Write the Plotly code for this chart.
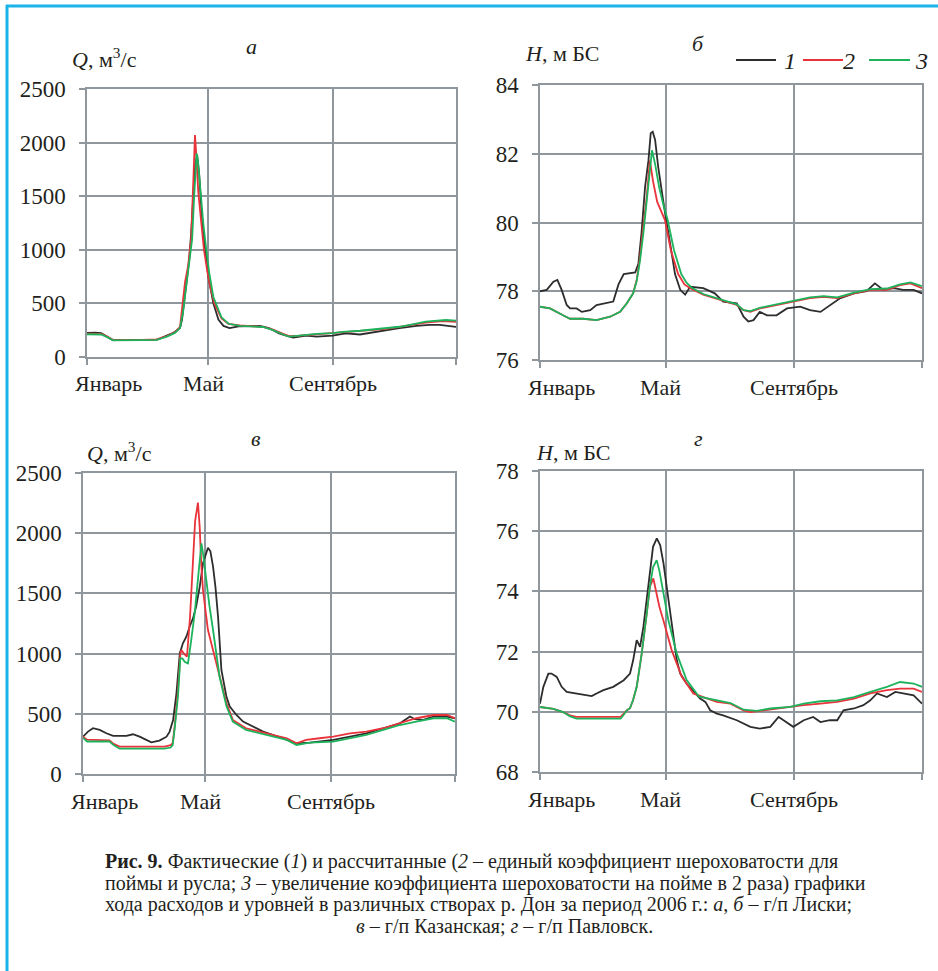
import plotly.graph_objects as go

W, H = 938, 971
SERIF = "Liberation Serif"
TXT = "#231f20"
GRID = "#8f979d"
C1, C2, C3 = "#2d2d2d", "#e8333a", "#1db35c"

# ---------------- data (day of year, value) ----------------
# Panel a: discharge Q, m3/s, Liski
a1_d = [0, 8, 14, 20, 25, 40, 55, 69, 72, 79, 83, 87, 92, 94, 96, 99, 101, 103, 105, 107, 109, 111, 113, 115, 117, 120, 125, 130, 135, 141, 150, 160, 171, 180, 190, 197, 204, 217, 227, 243, 256, 270, 283, 293, 309, 326, 339, 349, 365]
a1_v = [225, 228, 222, 190, 160, 158, 160, 162, 172, 195, 215, 235, 270, 350, 520, 780, 900, 1150, 1500, 1800, 1880, 1700, 1400, 1150, 1000, 750, 500, 350, 290, 270, 285, 290, 290, 270, 220, 200, 180, 200, 190, 200, 220, 210, 230, 250, 270, 290, 300, 300, 280]
a2_d = [0, 14, 20, 26, 55, 69, 72, 79, 87, 92, 94, 97, 100, 103, 105, 106.8, 108, 110, 112, 115.7, 119, 122, 126, 133, 140, 151, 174, 184, 194, 200, 210, 227, 243, 253, 270, 283, 296, 309, 322, 335, 352, 365]
a2_v = [218, 215, 190, 158, 160, 165, 175, 195, 230, 280, 450, 700, 850, 1100, 1600, 2070, 1900, 1550, 1350, 1000, 800, 650, 500, 360, 310, 295, 280, 255, 215, 195, 200, 212, 220, 228, 240, 250, 262, 280, 300, 320, 335, 328]
a3_d = [0, 14, 20, 26, 55, 69, 72, 79, 87, 92, 95, 98, 101, 104, 106, 108.5, 110, 113, 115, 118, 121, 125, 133, 140, 151, 174, 184, 194, 200, 210, 227, 243, 253, 270, 283, 296, 309, 322, 335, 355, 365]
a3_v = [212, 210, 185, 155, 157, 160, 168, 190, 225, 270, 420, 650, 850, 1100, 1500, 1900, 1800, 1450, 1250, 1000, 780, 560, 370, 310, 290, 280, 250, 210, 190, 200, 215, 222, 235, 245, 255, 268, 282, 305, 330, 345, 340]

# Panel b: water level H, m BS, Liski
b1_d = [0, 6.4, 12.8, 16.6, 20.7, 25.5, 28.7, 35, 40, 48, 54, 60.6, 70, 75, 80, 91, 94, 97, 100.4, 103.6, 105.8, 107.7, 110, 113, 116.4, 119.5, 122.7, 126, 129, 134, 138.7, 143.5, 156, 167, 175, 188, 194.5, 199, 204, 210, 217, 226, 236, 248.6, 258, 268, 277, 287, 300, 312, 320, 328, 338, 347, 357, 365]
b1_v = [78.0, 78.04, 78.28, 78.33, 78.04, 77.6, 77.5, 77.5, 77.4, 77.45, 77.6, 77.65, 77.7, 78.2, 78.5, 78.55, 78.8, 79.7, 81.04, 81.8, 82.6, 82.64, 82.4, 81.6, 80.85, 80.27, 79.7, 79.0, 78.5, 78.04, 77.9, 78.13, 78.09, 77.94, 77.7, 77.65, 77.26, 77.12, 77.16, 77.4, 77.3, 77.3, 77.5, 77.55, 77.45, 77.4, 77.6, 77.8, 77.94, 78.0, 78.23, 78.04, 78.09, 78.04, 78.04, 77.94]
b2_d = [0, 9.6, 22, 28.7, 41, 54, 67, 76.5, 83, 89, 92.4, 95.6, 98.8, 102, 105, 108, 112, 119.4, 125, 132, 138, 143.5, 156, 172, 188, 194.5, 201, 210, 226, 242, 258, 271, 284, 300, 316, 331.6, 344, 354, 365]
b2_v = [77.55, 77.5, 77.3, 77.2, 77.2, 77.16, 77.26, 77.4, 77.65, 77.94, 78.33, 79.0, 79.9, 80.75, 81.8, 81.2, 80.6, 80.07, 79.2, 78.5, 78.2, 78.09, 77.9, 77.75, 77.6, 77.45, 77.4, 77.5, 77.6, 77.7, 77.8, 77.84, 77.8, 77.94, 78.04, 78.04, 78.18, 78.23, 78.09]
b3_d = [0, 9.6, 22, 28.7, 41, 54, 67, 76.5, 83, 89, 92.4, 95.6, 98.8, 102, 104.5, 107, 110, 114, 118, 122, 128, 135, 140, 145, 156, 172, 188, 194.5, 201, 210, 226, 242, 258, 271, 284, 300, 316, 331.6, 344, 354, 365]
b3_v = [77.55, 77.5, 77.3, 77.2, 77.2, 77.16, 77.26, 77.4, 77.65, 77.94, 78.3, 78.9, 79.7, 80.6, 81.5, 82.1, 81.7, 81.0, 80.5, 80.07, 79.2, 78.5, 78.25, 78.1, 77.92, 77.76, 77.62, 77.45, 77.42, 77.52, 77.62, 77.72, 77.82, 77.86, 77.82, 77.96, 78.06, 78.08, 78.2, 78.26, 78.15]

# Panel в: discharge Q, m3/s, Kazanskaya
c1_d = [0, 4.9, 9.8, 16.4, 22.9, 29.5, 42.6, 49, 55.6, 62, 67, 75, 82, 85, 88.4, 91.7, 95, 98, 101.5, 104.7, 108, 111, 114.6, 117.8, 121, 122.6, 125, 127.6, 130, 132.5, 135.8, 140.7, 144, 150.6, 157, 167, 176.8, 186.6, 199.7, 209.5, 222.6, 245.5, 262, 278, 294.6, 311, 320.8, 325.7, 333.9, 343.7, 356.8, 365]
c1_v = [310, 352, 380, 366, 338, 316, 316, 330, 310, 283, 263, 277, 310, 352, 449, 670, 1003, 1086, 1142, 1225, 1294, 1391, 1558, 1752, 1850, 1880, 1850, 1722, 1550, 1307, 864, 643, 560, 490, 435, 394, 352, 324, 283, 255, 260, 283, 310, 338, 380, 421, 477, 455, 449, 477, 477, 463]
c2_d = [0, 4, 10, 26, 30, 36, 60, 80, 86, 88, 90, 93.2, 95.5, 96.5, 99, 102, 105, 108, 110, 112.8, 114.5, 116, 117.7, 122.6, 129, 134, 140.7, 147, 160, 180, 200, 209.5, 219, 232, 245.5, 262, 278, 294.6, 311, 327, 344, 357, 365]
c2_v = [310, 285, 283, 280, 250, 228, 228, 228, 240, 257, 400, 698, 1000, 1030, 1000, 974, 1300, 1805, 2100, 2254, 2050, 1750, 1528, 1196, 974, 808, 590, 449, 380, 338, 297, 255, 283, 297, 310, 338, 352, 380, 421, 463, 490, 490, 463]
c3_d = [0, 4, 26, 30, 36, 80, 86, 88, 90, 93.2, 95.5, 97.5, 100, 103, 106, 109.6, 112, 114.6, 116.2, 118, 121, 124, 127.6, 131, 134, 140.7, 147, 160, 180, 200, 209.5, 222.6, 245.5, 262, 278, 294.6, 311, 327, 344, 357, 365]
c3_v = [300, 270, 270, 240, 210, 210, 220, 240, 380, 650, 960, 960, 930, 919, 1100, 1337, 1550, 1800, 1916, 1820, 1584, 1400, 1196, 1000, 808, 564, 435, 366, 324, 283, 241, 260, 269, 297, 324, 366, 407, 435, 463, 463, 435]

# Panel г: water level H, m BS, Pavlovsk
d1_d = [0, 3.2, 8, 11, 16, 20.7, 25.5, 35, 44.6, 49.4, 54, 60.6, 70, 80, 86, 89, 92.4, 95.6, 98.8, 102, 105, 108, 111.6, 114.8, 118, 121, 124, 127.5, 130.7, 134, 140, 153, 158, 162.6, 169, 175, 188, 201, 210, 220, 228, 232.7, 242, 252, 261, 268, 277, 284, 290, 300, 309, 315.6, 322, 331.5, 339.5, 347, 357, 365]
d1_v = [70.27, 70.83, 71.27, 71.27, 71.16, 70.83, 70.66, 70.61, 70.55, 70.52, 70.61, 70.72, 70.83, 71.05, 71.27, 71.71, 72.38, 72.16, 72.82, 73.82, 74.7, 75.48, 75.76, 75.54, 74.93, 74.15, 73.49, 72.6, 71.71, 71.27, 70.94, 70.44, 70.33, 70.05, 69.94, 69.88, 69.72, 69.5, 69.44, 69.5, 69.83, 69.72, 69.5, 69.72, 69.83, 69.66, 69.72, 69.72, 70.05, 70.11, 70.22, 70.38, 70.61, 70.49, 70.66, 70.61, 70.55, 70.27]
d2_d = [0, 12.8, 22, 28.7, 35, 77, 80, 83, 86, 89, 92.4, 97.2, 102, 105, 108.3, 111, 114, 117.8, 125.8, 135.4, 146.5, 156, 169, 182, 194.5, 201, 214, 226.4, 239, 252, 268, 284, 300, 315.6, 331.5, 344, 357, 365]
d2_v = [70.16, 70.1, 69.99, 69.88, 69.83, 69.83, 69.94, 70.05, 70.12, 70.4, 70.83, 71.94, 73.27, 74.16, 74.43, 74.0, 73.5, 73.05, 72.05, 71.17, 70.61, 70.49, 70.33, 70.27, 70.05, 69.99, 70.05, 70.11, 70.16, 70.22, 70.27, 70.33, 70.44, 70.61, 70.72, 70.77, 70.77, 70.66]
d3_d = [0, 12.8, 22, 28.7, 35, 77, 80, 83, 86, 89, 92.4, 97.2, 102, 105, 108, 111.5, 114, 118, 122.6, 130.6, 140, 152, 169, 182, 194.5, 207, 220, 239, 252, 268, 284, 300, 315.6, 331.5, 344, 357, 365]
d3_v = [70.16, 70.1, 69.99, 69.85, 69.77, 69.77, 69.9, 70.05, 70.12, 70.4, 70.83, 71.94, 73.27, 74.16, 74.8, 75.04, 74.7, 73.9, 73.05, 71.94, 71.06, 70.5, 70.38, 70.29, 70.07, 70.03, 70.11, 70.16, 70.27, 70.35, 70.38, 70.49, 70.66, 70.83, 70.99, 70.94, 70.83]

month_ticks = [0, 120, 243, 365]
month_labels = ["Январь", "Май", "Сентябрь"]
q_ticks = [0, 500, 1000, 1500, 2000, 2500]
hb_ticks = [76, 78, 80, 82, 84]
hd_ticks = [68, 70, 72, 74, 76, 78]
series_names = ["1", "2", "3"]
colors = [C1, C2, C3]


def px_x(x0, x1):
    return [x0 / W, x1 / W]


def px_y(top, bottom):
    return [1 - bottom / H, 1 - top / H]


panels = [
    ("", (87, 456), (89, 357), [0, 2500], q_ticks, [(a1_d, a1_v), (a2_d, a2_v), (a3_d, a3_v)]),
    ("2", (540, 922), (85, 360), [76, 84], hb_ticks, [(b1_d, b1_v), (b2_d, b2_v), (b3_d, b3_v)]),
    ("3", (83, 455), (473, 774), [0, 2500], q_ticks, [(c1_d, c1_v), (c2_d, c2_v), (c3_d, c3_v)]),
    ("4", (540, 922), (471, 772), [68, 78], hd_ticks, [(d1_d, d1_v), (d2_d, d2_v), (d3_d, d3_v)]),
]

fig = go.Figure()
annotations = []
shapes = []
layout = dict(
    template="none", showlegend=False,
    width=W, height=H, margin=dict(l=0, r=0, t=0, b=0, pad=0, autoexpand=False),
    paper_bgcolor="white", plot_bgcolor="white",
    font=dict(family=SERIF, color=TXT, size=21),
)

for key, (x0, x1), (y0, y1), yr, yt, series in panels:
    xa = "x" + key
    ya = "y" + key
    for i, (d, v) in enumerate(series):
        fig.add_trace(go.Scatter(
            x=d, y=v, mode="lines", xaxis=xa, yaxis=ya,
            line=dict(color=colors[i], width=1.8),
            name=series_names[i], showlegend=False,
        ))
    layout["xaxis" + key] = dict(
        domain=px_x(x0, x1), anchor=ya, range=[0, 365], automargin=False,
        tickvals=month_ticks, showticklabels=False,
        ticks="outside", ticklen=6, tickcolor=GRID, tickwidth=1.5,
        showgrid=True, gridcolor=GRID, gridwidth=1.5,
        showline=True, linecolor=GRID, linewidth=1.5, mirror=True,
        zeroline=False,
    )
    layout["yaxis" + key] = dict(
        domain=px_y(y0, y1), anchor=xa, range=yr, automargin=False,
        tickvals=yt, ticktext=[str(v) for v in yt],
        ticks="outside", ticklen=6, tickcolor=GRID, tickwidth=1.5,
        showgrid=True, gridcolor=GRID, gridwidth=1.5,
        showline=True, linecolor=GRID, linewidth=1.5, mirror=True,
        zeroline=False, ticklabelstandoff=9,
        tickfont=dict(family=SERIF, size=23, color=TXT),
    )
    lab_y = 1 - (y1 + 27) / H
    for j, lab in enumerate(month_labels):
        annotations.append(dict(x=month_ticks[j], xref=xa, y=lab_y, yref="paper",
                                text=lab, showarrow=False,
                                xanchor="left" if j == 0 else "center", yanchor="middle",
                                xshift=[-14, -5, 0][j],
                                font=dict(family=SERIF, size=22, color=TXT)))


def ann(text, x, y, size=21, xanchor="left"):
    annotations.append(dict(
        x=x / W, y=1 - y / H, xref="paper", yref="paper", text=text, showarrow=False,
        xanchor=xanchor, yanchor="middle", font=dict(family=SERIF, size=size, color=TXT),
    ))


# axis titles
ann("<i>Q</i>, м<sup>3</sup>/с", 70, 58, size=22)
ann("<i>H</i>, м БС", 523, 54, size=22)
ann("<i>Q</i>, м<sup>3</sup>/с", 85, 452, size=22)
ann("<i>H</i>, м БС", 534, 452, size=22)
# panel letters
ann("<i>а</i>", 251, 46, size=22, xanchor="center")
ann("<i>б</i>", 698, 43, size=22, xanchor="center")
ann("<i>в</i>", 256, 438, size=22, xanchor="center")
ann("<i>г</i>", 698, 438, size=22, xanchor="center")

# legend (key lines + italic numbers), top right of panel б
leg_lines = [(736, 776), (803, 843), (869, 910)]
leg_text_x = [790, 849, 921]
for i in range(3):
    lx0, lx1 = leg_lines[i]
    shapes.append(dict(type="line", xref="paper", yref="paper",
                       x0=lx0 / W, x1=lx1 / W, y0=1 - 60 / H, y1=1 - 60 / H,
                       line=dict(color=colors[i], width=2)))
    ann("<i>" + series_names[i] + "</i>", leg_text_x[i], 61, size=24, xanchor="center")

# caption
cap = [
    "<b>Рис. 9.</b> Фактические (<i>1</i>) и рассчитанные (<i>2</i> – единый коэффициент шероховатости для",
    "поймы и русла; <i>3</i> – увеличение коэффициента шероховатости на пойме в 2 раза) графики",
    "хода расходов и уровней в различных створах р. Дон за период 2006 г.: <i>а</i>, <i>б</i> – г/п Лиски;",
    "<i>в</i> – г/п Казанская; <i>г</i> – г/п Павловск.",
]
cap_y = [861, 883, 904, 926]
for i, t in enumerate(cap):
    if i < 3:
        ann(t, 103, cap_y[i], size=20)
    else:
        ann(t, 504, cap_y[i], size=20, xanchor="center")

shapes += [
    dict(type="line", xref="paper", yref="paper", x0=6 / W, x1=1, y0=1 - 6 / H, y1=1 - 6 / H,
         line=dict(color="#1ab4ea", width=3)),
    dict(type="line", xref="paper", yref="paper", x0=7 / W, x1=7 / W, y0=0, y1=1 - 5 / H,
         line=dict(color="#1ab4ea", width=3)),
]
layout["annotations"] = annotations
layout["shapes"] = shapes
fig.update_layout(**layout)
fig.write_html("out.html")
